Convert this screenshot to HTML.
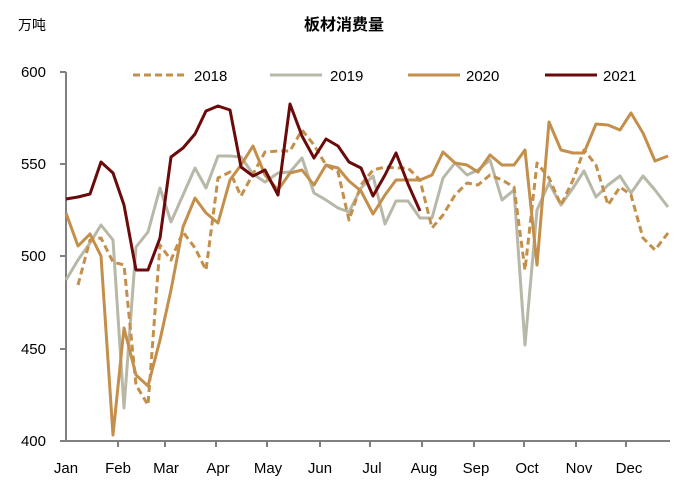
<!DOCTYPE html><html><head><meta charset="utf-8"><style>body{margin:0;background:#fff}svg{display:block}text{font-family:"Liberation Sans","Noto Sans CJK SC",sans-serif;fill:#000}</style></head><body>
<svg width="688" height="486" viewBox="0 0 688 486">
<text x="18" y="30" font-size="14">万吨</text>
<text x="344" y="30" font-size="16" font-weight="bold" text-anchor="middle">板材消费量</text>
<g stroke="#808080" stroke-width="2" fill="none">
<line x1="66" y1="72" x2="66" y2="442"/><line x1="65" y1="441" x2="670" y2="441"/>
<line x1="60" y1="72" x2="66" y2="72"/><line x1="60" y1="164" x2="66" y2="164"/><line x1="60" y1="256" x2="66" y2="256"/><line x1="60" y1="349" x2="66" y2="349"/><line x1="60" y1="441" x2="66" y2="441"/>
<line x1="118" y1="441" x2="118" y2="447"/><line x1="165" y1="441" x2="165" y2="447"/><line x1="216" y1="441" x2="216" y2="447"/><line x1="267" y1="441" x2="267" y2="447"/><line x1="320" y1="441" x2="320" y2="447"/><line x1="370" y1="441" x2="370" y2="447"/><line x1="422" y1="441" x2="422" y2="447"/><line x1="474" y1="441" x2="474" y2="447"/><line x1="524" y1="441" x2="524" y2="447"/><line x1="576" y1="441" x2="576" y2="447"/><line x1="626" y1="441" x2="626" y2="447"/>
</g>
<g font-size="15" text-anchor="end"><text x="46" y="77">600</text><text x="46" y="169">550</text><text x="46" y="261">500</text><text x="46" y="354">450</text><text x="46" y="446">400</text></g>
<g font-size="15" text-anchor="middle"><text x="66" y="473">Jan</text><text x="118" y="473">Feb</text><text x="166" y="473">Mar</text><text x="218" y="473">Apr</text><text x="268" y="473">May</text><text x="320" y="473">Jun</text><text x="372" y="473">Jul</text><text x="424" y="473">Aug</text><text x="476" y="473">Sep</text><text x="527" y="473">Oct</text><text x="579" y="473">Nov</text><text x="629" y="473">Dec</text></g>
<g stroke-width="3" fill="none" stroke-linejoin="round">
<line x1="133" y1="75" x2="188" y2="75" stroke="#C48F4A" stroke-dasharray="7,4"/>
<line x1="270" y1="75" x2="322" y2="75" stroke="#B8B8A8"/>
<line x1="408" y1="75" x2="460" y2="75" stroke="#C48F4A"/>
<line x1="545" y1="75" x2="597" y2="75" stroke="#6B0A0A"/>
<polyline stroke="#B8B8A8" points="66,280 78,260 90,243 101,225 113,240 124,408 136,247 148,232 160,188 171,222 183,195 195,168 206,188 218,156 230,156 241,157 253,174 265,182 278,173 290,172 302,158 314,193 326,200 338,208 349,212 361,188 373,176 385,224 396,201 408,201 420,218 432,218 443,178 455,163 467,175 478,170 490,160 502,200 514,190 525,345 537,210 549,183 561,205 573,188 584,171 596,197 608,185 620,176 631,193 643,176 655,190 668,207"/>
<polyline stroke="#C48F4A" stroke-dasharray="7,4" points="78,285 90,240 101,238 113,262 124,265 136,385 148,405 160,245 171,260 183,232 195,248 206,270 218,178 230,172 241,196 253,174 265,152 278,151 290,151 302,130 314,145 326,165 338,172 349,220 361,185 373,170 385,167 396,168 408,168 420,180 432,228 443,215 455,195 467,183 478,185 490,175 502,180 514,187 525,270 537,163 549,178 561,205 573,180 584,150 596,165 608,205 620,187 631,195 643,238 655,250 668,233"/>
<polyline stroke="#C48F4A" points="66,213 78,246 90,234 101,256 113,435 124,328 136,375 148,386 160,340 171,290 183,227 195,198 206,213 218,223 230,180 241,165 253,146 265,175 278,190 290,173 302,170 314,185 326,165 338,168 349,181 361,191 373,214 385,195 396,180 408,180 420,180 432,175 443,152 455,163 467,165 478,172 490,155 502,165 514,165 525,150 537,265 549,122 561,150 573,153 584,153 596,124 608,125 620,130 631,113 643,133 655,161 668,156"/>
<polyline stroke="#6B0A0A" points="66,199 78,197 90,194 101,162 113,173 124,205 136,270 148,270 160,238 171,157 183,148 195,134 206,111 218,106 230,110 241,167 253,176 265,170 278,195 290,104 302,136 314,158 326,139 338,146 349,162 361,168 373,196 385,175 396,153 408,184 420,211"/>
</g>
<g font-size="15"><text x="194" y="81">2018</text><text x="330" y="81">2019</text><text x="466" y="81">2020</text><text x="603" y="81">2021</text></g>
</svg></body></html>
